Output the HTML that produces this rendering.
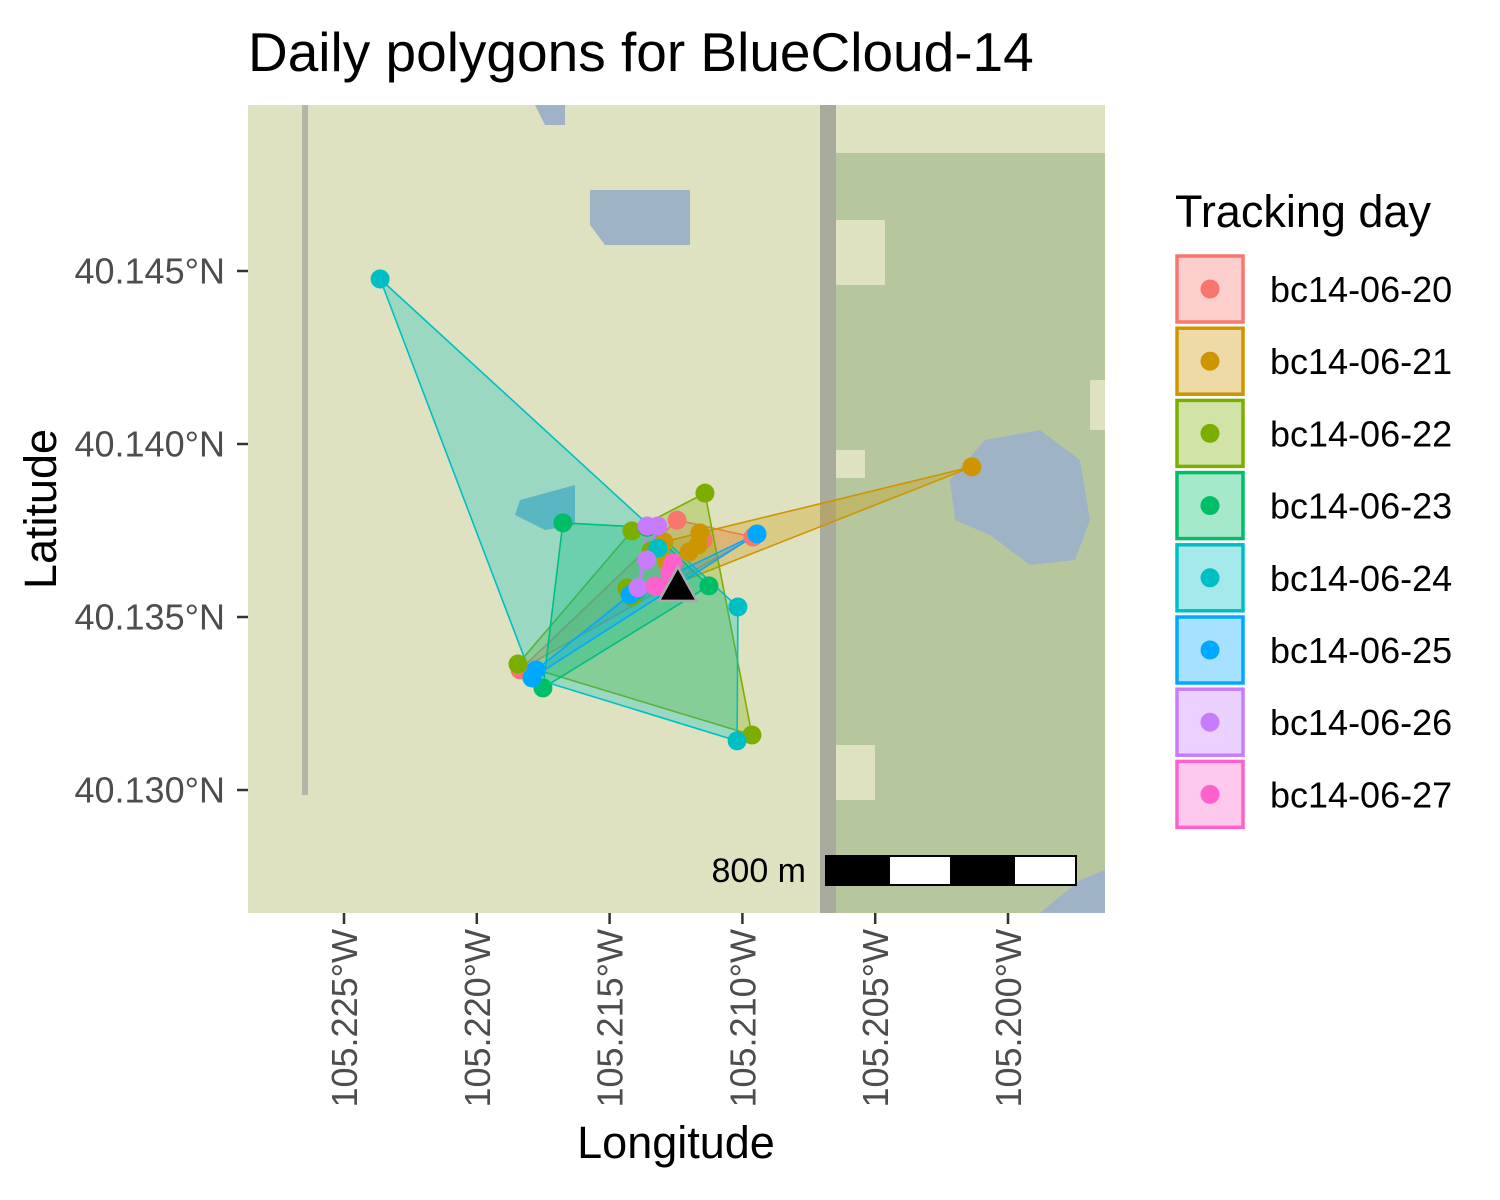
<!DOCTYPE html>
<html><head><meta charset="utf-8">
<style>
html,body{margin:0;padding:0;background:#fff;}
svg{display:block;font-family:"Liberation Sans",Arial,sans-serif;}
</style></head>
<body>
<svg id="chart" width="1500" height="1200" viewBox="0 0 1500 1200" xmlns="http://www.w3.org/2000/svg">
<text x="248" y="71" font-size="55" fill="#000">Daily polygons for BlueCloud-14</text>
<defs><clipPath id="pclip"><rect x="248" y="105" width="857" height="808"/></clipPath></defs>
<g clip-path="url(#pclip)">
  <rect x="248" y="105" width="857" height="808" fill="#dfe2c1"/>
  <rect x="835" y="153" width="270" height="760" fill="#b7c79d"/>
  <rect x="835" y="220" width="50" height="65" fill="#dfe2c1"/>
  <rect x="835" y="450" width="30" height="28" fill="#dfe2c1"/>
  <rect x="835" y="745" width="40" height="55" fill="#dfe2c1"/>
  <rect x="1090" y="380" width="15" height="50" fill="#dfe2c1"/>
  <rect x="1083" y="105" width="22" height="48" fill="#dfe2c1"/>
  <rect x="820" y="105" width="16" height="808" fill="#a9ab9f"/>
  <rect x="302" y="105" width="6" height="690" fill="#b3b5a8"/>
  <path d="M590,190 L690,190 L690,245 L605,245 L590,225 Z" fill="#9fb3c6"/>
  <path d="M535,105 L565,105 L565,125 L545,125 Z" fill="#9fb3c6"/>
  <path d="M950,480 L985,440 L1040,430 L1080,460 L1090,520 L1075,560 L1030,565 L990,535 L955,520 Z" fill="#9fb3c6"/>
  <path d="M520,500 L575,485 L575,525 L545,530 L515,515 Z" fill="#7fb3c3"/>
  <path d="M1040,913 L1080,880 L1105,870 L1105,913 Z" fill="#9fb3c6"/>
</g>
<g id="polys" clip-path="url(#pclip)"></g>
<g id="pts" clip-path="url(#pclip)"></g>
<g id="axes"></g>
<g>
  <text x="806" y="882" font-size="34" text-anchor="end" fill="#000">800 m</text>
  <rect x="826" y="856" width="64" height="29" fill="#000"/>
  <rect x="890" y="856" width="60" height="29" fill="#fff"/>
  <rect x="950" y="856" width="65" height="29" fill="#000"/>
  <rect x="1015" y="856" width="61" height="29" fill="#fff"/>
  <rect x="826" y="856" width="250" height="29" fill="none" stroke="#000" stroke-width="2"/>
</g>
<text x="676" y="1158" font-size="45" text-anchor="middle" fill="#000">Longitude</text>
<text transform="translate(56,509) rotate(-90)" font-size="45" text-anchor="middle" fill="#000">Latitude</text>
<g id="legend">
  <text x="1175" y="227" font-size="45" fill="#000">Tracking day</text>
</g>
</svg>
<script>
const days = ["bc14-06-20","bc14-06-21","bc14-06-22","bc14-06-23","bc14-06-24","bc14-06-25","bc14-06-26","bc14-06-27"];
const colors = ["#F8766D","#CD9600","#7CAE00","#00BE67","#00BFC4","#00A9FF","#C77CFF","#FF61CC"];
const lon20 = [-105.21246,-105.20960,-105.21837,-105.21148];
const lat20 = [40.13780,40.13731,40.13347,40.13723];
const lon21 = [-105.21295,-105.21160,-105.21167,-105.21201,-105.21284,-105.20136,-105.21291];
const lat21 = [40.13717,40.13743,40.13708,40.13688,40.13659,40.13934,40.13584];
const lon22 = [-105.21141,-105.21416,-105.21344,-105.21845,-105.20964,-105.21435,-105.21416];
const lat22 = [40.13858,40.13749,40.13691,40.13364,40.13159,40.13584,40.13558];
const lon23 = [-105.21676,-105.21359,-105.21126,-105.21751,-105.21395];
const lat23 = [40.13772,40.13759,40.13590,40.13295,40.13578];
const lon24 = [-105.22364,-105.21318,-105.21017,-105.21020,-105.21792];
const lat24 = [40.14477,40.13699,40.13529,40.13142,40.13324];
const lon25 = [-105.20945,-105.21423,-105.21777,-105.21792];
const lat25 = [40.13740,40.13564,40.13347,40.13324];
const lon26 = [-105.21359,-105.21318,-105.21393,-105.21360];
const lat26 = [40.13763,40.13763,40.13584,40.13665];
const lon27 = [-105.21261,-105.21329,-105.21291,-105.21273];
const lat27 = [40.13656,40.13590,40.13584,40.13630];
const allLon = [lon20,lon21,lon22,lon23,lon24,lon25,lon26,lon27];
const allLat = [lat20,lat21,lat22,lat23,lat24,lat25,lat26,lat27];
const siteLon = [-105.21243];
const siteLat = [40.13587];
const xTicks = [-105.225,-105.220,-105.215,-105.210,-105.205,-105.200];
const xTickLabels = ["105.225°W","105.220°W","105.215°W","105.210°W","105.205°W","105.200°W"];
const yTicks = [40.145,40.140,40.135,40.130];
const yTickLabels = ["40.145°N","40.140°N","40.135°N","40.130°N"];

const X = lon => 344 + (lon + 105.225) * 26560;
const Y = lat => 271 - (lat - 40.145) * 34600;
const NS = "http://www.w3.org/2000/svg";
function mk(tag, attrs, parent){const e=document.createElementNS(NS,tag);for(const k in attrs)e.setAttribute(k,attrs[k]);parent.appendChild(e);return e;}

function hull(p){
  p = p.slice().sort((a,b)=>a[0]-b[0]||a[1]-b[1]);
  const cr=(o,a,b)=>(a[0]-o[0])*(b[1]-o[1])-(a[1]-o[1])*(b[0]-o[0]);
  const lo=[],up=[];
  for(const q of p){while(lo.length>=2&&cr(lo[lo.length-2],lo[lo.length-1],q)<=0)lo.pop();lo.push(q);}
  for(let i=p.length-1;i>=0;i--){const q=p[i];while(up.length>=2&&cr(up[up.length-2],up[up.length-1],q)<=0)up.pop();up.push(q);}
  up.pop();lo.pop();return lo.concat(up);
}

const polys=document.getElementById('polys'), pts=document.getElementById('pts');
days.forEach((d,i)=>{
  const p = allLon[i].map((lo,j)=>[X(lo),Y(allLat[i][j])]);
  const h = hull(p);
  const pg = mk('polygon',{points:h.map(q=>q.join(',')).join(' '),fill:colors[i],'fill-opacity':0.3,stroke:colors[i],'stroke-width':1.6},polys);
  
  
});
days.forEach((d,i)=>{
  allLon[i].forEach((lo,j)=>{
    const c = mk('circle',{cx:X(lo),cy:Y(allLat[i][j]),r:9.5,fill:colors[i]},pts);
    
    
  });
});
siteLon.forEach((lo,j)=>{
  const x=X(lo), y=Y(siteLat[j]);
  const t = mk('polygon',{points:`${x},${y-20} ${x-19},${y+14} ${x+19},${y+14}`,fill:'#000',stroke:'#aaa','stroke-width':2.5},pts);
  
  
});

const axes=document.getElementById('axes');
xTicks.forEach((v,i)=>{
  const x=X(v);
  const l=mk('line',{x1:x,x2:x,y1:913,y2:924,stroke:'#333','stroke-width':2.5},axes);
  
  
  const t=mk('text',{transform:`translate(${x+13},929) rotate(-90)`,'font-size':36,fill:'#4d4d4d','text-anchor':'end'},axes);
  t.textContent=xTickLabels[i];
  
  
});
yTicks.forEach((v,i)=>{
  const y=Y(v);
  const l=mk('line',{x1:237,x2:248,y1:y,y2:y,stroke:'#333','stroke-width':2.5},axes);
  
  
  const t=mk('text',{x:225,y:y+12.5,'font-size':36,fill:'#4d4d4d','text-anchor':'end'},axes);
  t.textContent=yTickLabels[i];
  
  
});

const leg=document.getElementById('legend');
days.forEach((d,i)=>{
  const y0=256+i*72.2;
  const g=mk('g',{},leg);
  
  
  mk('rect',{x:1177,y:y0,width:66,height:66,fill:colors[i],'fill-opacity':0.35,stroke:colors[i],'stroke-width':3.5},g);
  mk('circle',{cx:1210,cy:y0+33,r:9.5,fill:colors[i]},g);
  const t=mk('text',{x:1270,y:y0+46,'font-size':36,fill:'#000'},g);
  t.textContent=d;
});
</script>
</body></html>
